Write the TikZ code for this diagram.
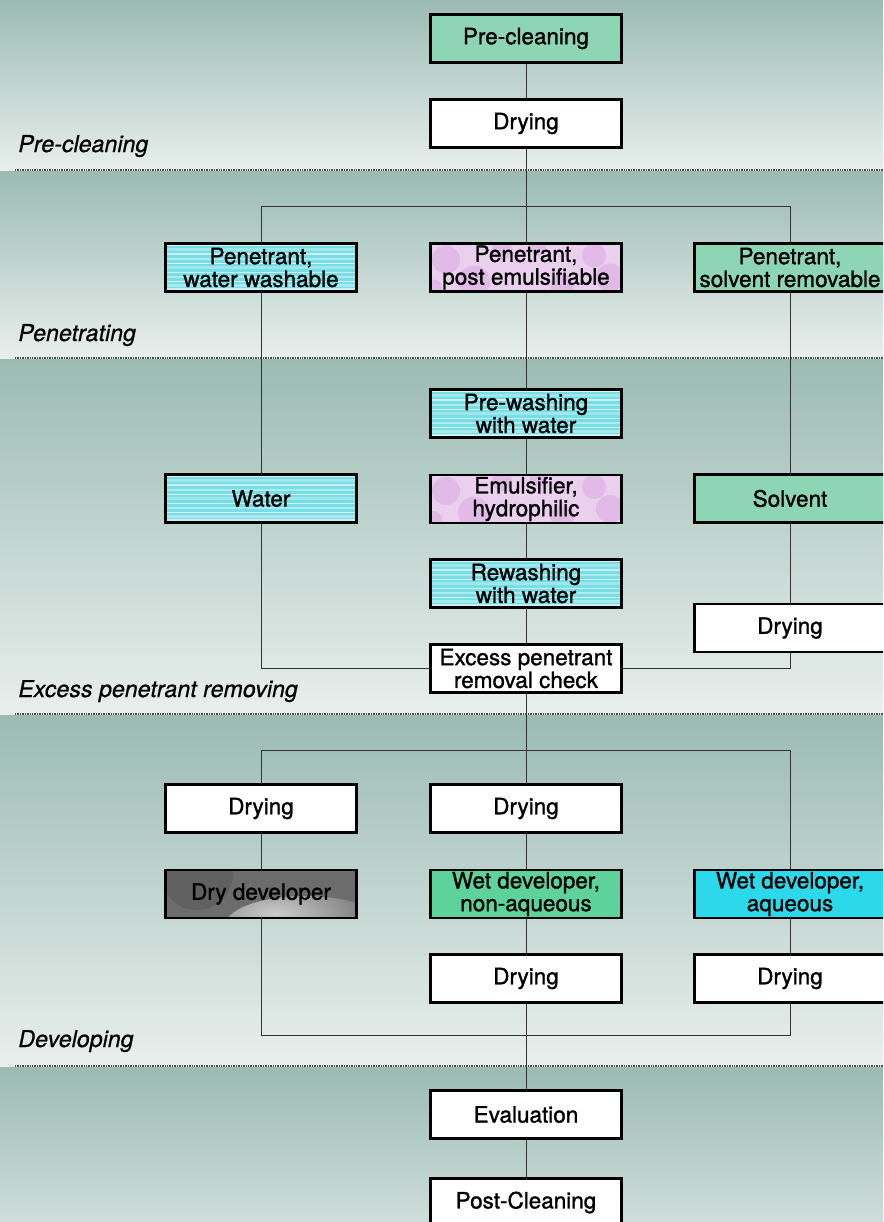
\documentclass[tikz,border=0pt]{standalone}
\usepackage{fontspec}
\setmainfont{TeX Gyre Heros}
\newfontfamily\boxfont[FakeBold=1.2]{TeX Gyre Heros}
\newfontfamily\labfont[FakeBold=0.8,FakeSlant=0.2]{TeX Gyre Heros}
\usetikzlibrary{calc}
\definecolor{bandtop}{HTML}{9BBBB3}
\definecolor{bandbot}{HTML}{E9EFED}
\definecolor{mint}{HTML}{8ED5B6}
\definecolor{wetgreen}{HTML}{5DD39B}
\definecolor{aqua}{HTML}{2BD9EB}
\definecolor{watercyan}{HTML}{78DEE6}
\definecolor{bubble}{HTML}{EBCFEE}
\definecolor{bubbledark}{HTML}{D59BDD}
\definecolor{drygray}{HTML}{6C6C6C}
\definecolor{linegray}{HTML}{333333}
\tikzset{
  box/.style={draw=black, line width=2pt, minimum width=4.78cm, minimum height=1.2cm,
    inner sep=1pt, align=center, font=\boxfont\fontsize{16}{16.2}\selectfont, fill=white},
  plainbox/.style={box},
  mintbox/.style={box, fill=mint},
  wetbox/.style={box, fill=wetgreen},
  aquabox/.style={box, fill=aqua},
  waterbox/.style={box, fill=watercyan, path picture={
    \foreach \t/\o/\w in {0.05/0.6/1.2,0.13/0.35/2.2,0.21/0.7/0.8,0.30/0.4/1.6,0.40/0.6/1.0,
        0.50/0.3/2.2,0.59/0.7/0.8,0.68/0.4/1.5,0.78/0.6/1.0,0.87/0.3/2.0,0.95/0.7/0.8}{
      \draw[white, opacity=\o, line width=\w pt]
        ($(path picture bounding box.south west)!\t!(path picture bounding box.north west)$) --
        ($(path picture bounding box.south east)!\t!(path picture bounding box.north east)$);}}},
  bubblebox/.style={box, fill=bubble, path picture={
    \foreach \dx/\dy/\r in {-2.0/0.2/0.35,-1.3/-0.35/0.4,1.7/0.3/0.3,2.1/-0.25/0.35,-0.6/0.45/0.25,0.9/-0.45/0.3,-2.3/-0.5/0.2,0.3/0.5/0.2}{
      \fill[bubbledark, opacity=0.4] ([shift={(\dx cm,\dy cm)}]path picture bounding box.center) circle (\r cm);}}},
  drybox/.style={box, fill=drygray, path picture={
    \shade[inner color=black!20, outer color=drygray]
      ([shift={(1.1cm,-0.8cm)}]path picture bounding box.center) ellipse (2.0cm and 0.75cm);
    \fill[black, opacity=0.1] ([shift={(-1.6cm,0.5cm)}]path picture bounding box.center) circle (0.9cm);}},
  conn/.style={draw=linegray, line width=0.7pt},
  sep/.style={draw=black!70, line width=0.8pt, dash pattern=on 0.6pt off 0.6pt},
  phase/.style={anchor=base west, inner sep=0pt, font=\labfont\fontsize{16.5}{17}\selectfont}
}
\begin{document}
\begin{tikzpicture}[x=0.025cm,y=-0.025cm]
\useasboundingbox (0,0) rectangle (883,1222);
\clip (0,0) rectangle (883,1222);
% bands
\shade[top color=bandtop, bottom color=bandbot] (0,0) rectangle (883,171);
\shade[top color=bandtop, bottom color=bandbot] (0,171) rectangle (883,359);
\shade[top color=bandtop, bottom color=bandbot] (0,359) rectangle (883,715);
\shade[top color=bandtop, bottom color=bandbot] (0,715) rectangle (883,1067);
\shade[top color=bandtop, bottom color=bandbot] (0,1067) rectangle (883,1300);
% separators
\draw[sep] (15,170) -- (883,170);
\draw[sep] (15,358) -- (883,358);
\draw[sep] (15,714) -- (883,714);
\draw[sep] (15,1066) -- (883,1066);
% phase labels
\node[phase] (lab1) at (17,152) {Pre-cleaning};
\node[phase] (lab2) at (17,341) {Penetrating};
\node[phase] (lab3) at (17,697) {Excess penetrant removing};
\node[phase] (lab4) at (17,1047) {Developing};
% nodes
\node[mintbox] (pre) at (526,38.5) {Pre-cleaning};
\node[plainbox] (dry1) at (526,123.5) {Drying};
\node[waterbox] (penW) at (261,267.5) {Penetrant,\\water washable};
\node[bubblebox] (penP) at (526,267.5) {Penetrant,\\post emulsifiable};
\node[mintbox] (penS) at (790,267.5) {Penetrant,\\solvent removable};
\node[waterbox] (prewash) at (526,413.5) {Pre-washing\\with water};
\node[waterbox] (water) at (261,498.5) {Water};
\node[bubblebox] (emul) at (526,499) {Emulsifier,\\hydrophilic};
\node[mintbox] (solvent) at (790,498.5) {Solvent};
\node[waterbox] (rewash) at (526,583.5) {Rewashing\\with water};
\node[plainbox] (dryS) at (790,628) {Drying};
\node[plainbox] (check) at (526,668.5) {Excess penetrant\\removal check};
\node[plainbox] (dryL) at (261,808.5) {Drying};
\node[plainbox] (dryM) at (526,808.5) {Drying};
\node[drybox] (dryDev) at (261,894) {Dry developer};
\node[wetbox] (wetNA) at (526,894) {Wet developer,\\non-aqueous};
\node[aquabox] (wetAq) at (790,894) {Wet developer,\\aqueous};
\node[plainbox] (dryM2) at (526,978.5) {Drying};
\node[plainbox] (dryR2) at (790,978.5) {Drying};
\node[plainbox] (eval) at (526,1114.5) {Evaluation};
\node[plainbox] (post) at (526,1202.5) {Post-Cleaning};
% bus coordinates
\coordinate (b1L) at (261,206);
\coordinate (b1R) at (790,206);
\coordinate (b2L) at (261,750);
\coordinate (b2R) at (790,750);
\coordinate (b3L) at (261,1035);
\coordinate (b3R) at (790,1035);
% connectors
\draw[conn] (pre) -- (dry1);
\draw[conn] (dry1) -- (penP);
\draw[conn] (penW) -- (b1L) -- (b1R) -- (penS);
\draw[conn] (penP) -- (prewash);
\draw[conn] (prewash) -- (emul);
\draw[conn] (emul) -- (rewash);
\draw[conn] (rewash) -- (check);
\draw[conn] (penW) -- (water);
\draw[conn] (water) |- (check);
\draw[conn] (penS) -- (solvent);
\draw[conn] (solvent) -- (dryS);
\draw[conn] (dryS) |- (check);
\draw[conn] (check) -- (dryM);
\draw[conn] (dryL) -- (b2L) -- (b2R) -- (wetAq);
\draw[conn] (dryL) -- (dryDev);
\draw[conn] (dryM) -- (wetNA);
\draw[conn] (wetNA) -- (dryM2);
\draw[conn] (wetAq) -- (dryR2);
\draw[conn] (dryDev) -- (b3L) -- (b3R) -- (dryR2);
\draw[conn] (dryM2) -- (eval);
\draw[conn] (eval) -- (post);
\end{tikzpicture}
\end{document}
